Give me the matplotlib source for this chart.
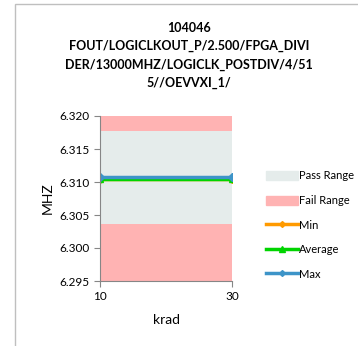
import matplotlib.pyplot as plt
import matplotlib.patches as mpatches

# data
krad = [10, 30]
min_vals = [6.3105, 6.3105]
avg_vals = [6.3105, 6.3105]
max_vals = [6.3107, 6.3107]
pass_low, pass_high = 6.3037, 6.3178
fail_low, fail_high = 6.295, 6.320
title = "104046\nFOUT/LOGICLKOUT_P/2.500/FPGA_DIVI\nDER/13000MHZ/LOGICLK_POSTDIV/4/51\n5//OEVVXI_1/"

plt.rcParams['font.family'] = ['Lato', 'DejaVu Sans']

fig = plt.figure(figsize=(3.58, 3.46), dpi=100)
ax = fig.add_axes([100 / 358, 1 - 281 / 346, 132 / 358, 165 / 346])

# outer chart border
fig.patches.append(mpatches.Rectangle((15 / 358, -0.01), 1.0, 1 - 4 / 346 + 0.01,
                                      transform=fig.transFigure, fill=False,
                                      edgecolor='#BFBFBF', linewidth=1))

pass_c = '#E5ECEB'
fail_c = '#FFB3B3'
ax.fill_between(krad, pass_high, fail_high, color=fail_c, linewidth=0)
ax.fill_between(krad, fail_low, pass_low, color=fail_c, linewidth=0)
ax.fill_between(krad, pass_low, pass_high, color=pass_c, linewidth=0)

ax.plot(krad, min_vals, color='#FF9A00', marker='D', markersize=4, linewidth=2.5)
ax.plot(krad, avg_vals, color='#00D400', marker='^', markersize=5, linewidth=2.5)
ax.plot(krad, max_vals, color='#3D94C8', marker='D', markersize=4, linewidth=2.5)

ax.set_xlim(10, 30)
ax.set_ylim(6.295, 6.320)
ax.set_xticks(krad)
ax.set_yticks([6.295, 6.300, 6.305, 6.310, 6.315, 6.320])
ax.set_yticklabels(['6.295', '6.300', '6.305', '6.310', '6.315', '6.320'])
ax.tick_params(labelsize=8.5, color='#868686', length=4)
ax.tick_params(axis='x', pad=3)
for s in ['top', 'right']:
    ax.spines[s].set_visible(False)
for s in ['left', 'bottom']:
    ax.spines[s].set_color('#868686')
ax.set_xlabel('krad', fontsize=10, labelpad=9)
ax.set_ylabel('MHZ', fontsize=10, labelpad=4)

fig.text(189 / 358, 1 - 22 / 346, title, ha='center', va='top', fontsize=9,
         fontweight='bold', linespacing=1.62)

handles = [
    mpatches.Patch(color=pass_c, label='Pass Range'),
    mpatches.Patch(color=fail_c, label='Fail Range'),
    plt.Line2D([], [], color='#FF9A00', marker='D', markersize=3, linewidth=2.5, label='Min'),
    plt.Line2D([], [], color='#00D400', marker='^', markersize=4, linewidth=2.5, label='Average'),
    plt.Line2D([], [], color='#3D94C8', marker='D', markersize=3, linewidth=2.5, label='Max'),
]
fig.legend(handles=handles, loc='upper left', bbox_to_anchor=(262 / 358, 1 - 166 / 346),
           frameon=False, fontsize=8, handlelength=2.8, handleheight=0.9,
           labelspacing=1.22, handletextpad=0.15, borderaxespad=0)

fig.savefig('out.png', dpi=100)
